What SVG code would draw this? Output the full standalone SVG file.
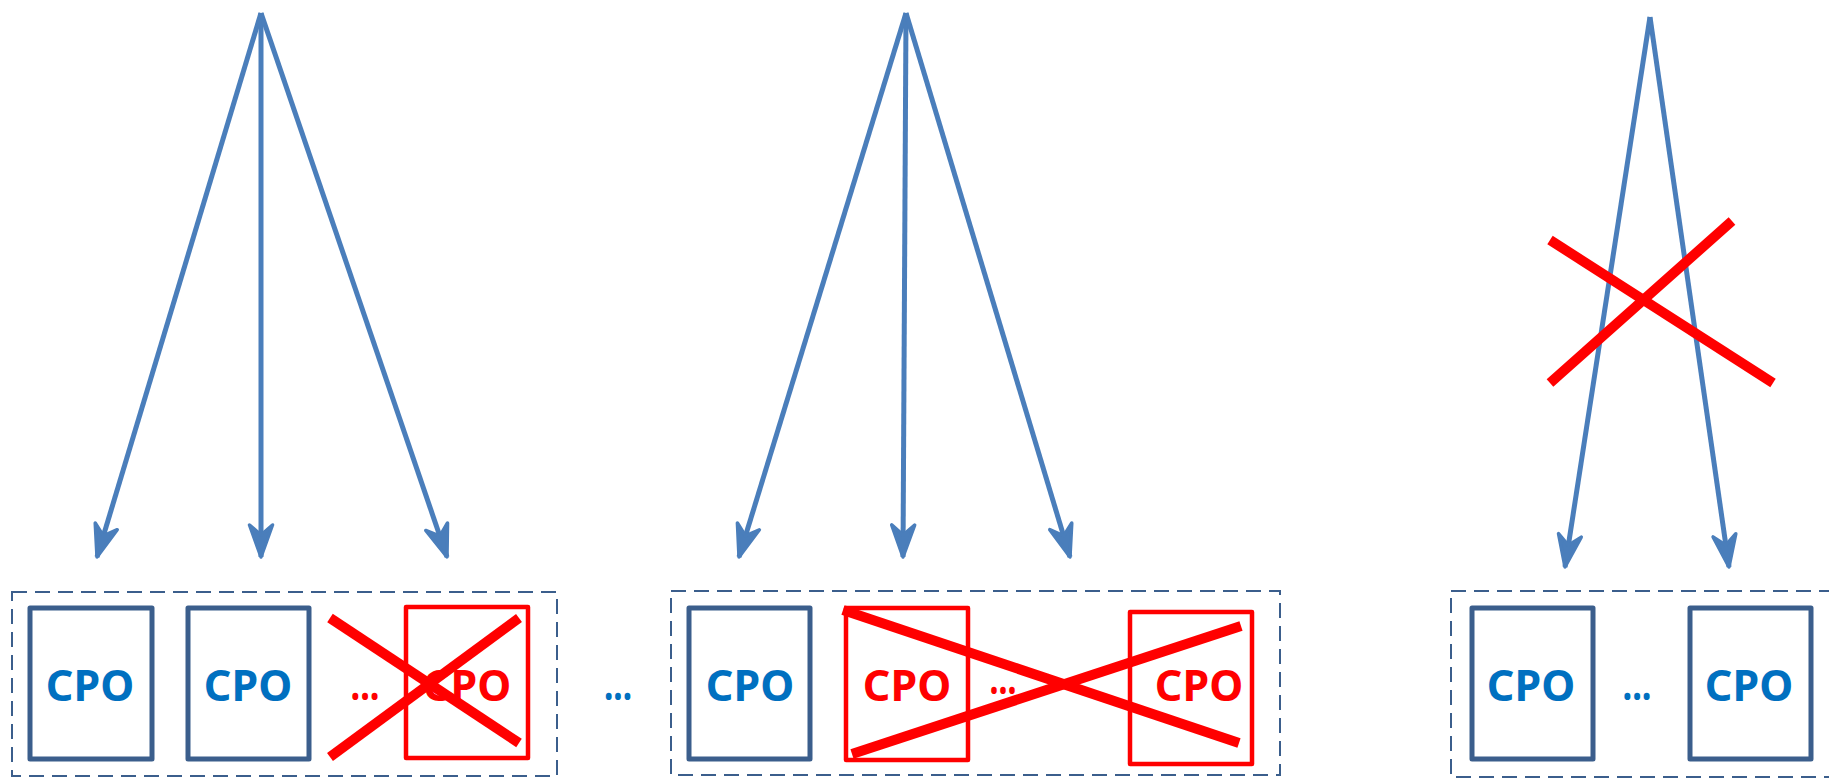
<svg xmlns="http://www.w3.org/2000/svg" width="1829" height="778" viewBox="0 0 1829 778">
<style>
.frame{fill:none;stroke:#3B5E8C;stroke-width:2;stroke-dasharray:15 8}
.cpo{fill:#fff;stroke:#3B5E8C;stroke-width:5;stroke-linejoin:round}
.cpor{fill:none;stroke:#FF0000;stroke-width:4.5;stroke-linejoin:round}
.t{font-family:"Noto Sans","Open Sans",sans-serif;font-weight:bold;font-size:43px;text-anchor:middle}
.blue{fill:#0070C0}
.red{fill:#FF0000}
.arr{stroke:#4A7EBB;stroke-width:5;fill:none;marker-end:url(#ah)}
.x{stroke:#FF0000;stroke-width:10;fill:none}
</style>
<defs>
<marker id="ah" markerUnits="userSpaceOnUse" markerWidth="44" markerHeight="34" refX="38" refY="17" orient="auto">
<path d="M38,17 L6,5.5 L16,17 L6,28.5 Z" fill="#4A7EBB" stroke="#4A7EBB" stroke-width="3.5" stroke-linejoin="round"/>
</marker>
</defs>
<rect width="1829" height="778" fill="#fff"/>

<g id="connectors">
<line class="arr" x1="261" y1="13" x2="97" y2="557"/>
<line class="arr" x1="261" y1="13" x2="261" y2="557"/>
<line class="arr" x1="261" y1="13" x2="447" y2="557"/>
<line class="arr" x1="906" y1="13" x2="739" y2="557"/>
<line class="arr" x1="906" y1="13" x2="903" y2="557"/>
<line class="arr" x1="906" y1="13" x2="1070" y2="557"/>
<line class="arr" x1="1650" y1="17" x2="1565" y2="567"/>
<line class="arr" x1="1650" y1="17" x2="1729" y2="567"/>
</g>

<g id="group1">
<rect class="frame" x="12" y="592" width="545" height="184"/>
<g id="g1-cpo1"><rect class="cpo" x="30" y="608" width="122" height="151"/><text class="t blue" x="90" y="701">CPO</text></g>
<g id="g1-cpo2"><rect class="cpo" x="188" y="608" width="121" height="151"/><text class="t blue" x="248" y="701">CPO</text></g>
<text class="t red" x="365" y="700" font-size="36" textLength="29" lengthAdjust="spacingAndGlyphs">...</text>
<g id="g1-cpo3"><rect class="cpor" x="406" y="607" width="122" height="151"/><text class="t red" x="467" y="701">CPO</text></g>
<line class="x" x1="330" y1="618" x2="519" y2="743"/>
<line class="x" x1="330" y1="757" x2="519" y2="618"/>
</g>

<text class="t blue" x="618" y="700" font-size="36" textLength="28" lengthAdjust="spacingAndGlyphs">...</text>

<g id="group2">
<rect class="frame" x="671" y="591" width="609" height="184"/>
<g id="g2-cpo1"><rect class="cpo" x="689" y="608" width="121" height="151"/><text class="t blue" x="750" y="701">CPO</text></g>
<g id="g2-cpo2"><rect class="cpor" x="846" y="608" width="122" height="152"/><text class="t red" x="907" y="701">CPO</text></g>
<text class="t red" x="1003" y="694" font-size="36" textLength="27" lengthAdjust="spacingAndGlyphs">...</text>
<g id="g2-cpo3"><rect class="cpor" x="1130" y="612" width="122" height="152"/><text class="t red" x="1199" y="701">CPO</text></g>
<line class="x" x1="843" y1="610" x2="1239" y2="743"/>
<line class="x" x1="852" y1="754" x2="1241" y2="626"/>
</g>

<g id="group3">
<rect class="frame" x="1451" y="591" width="400" height="186"/>
<g id="g3-cpo1"><rect class="cpo" x="1472" y="608" width="121" height="151"/><text class="t blue" x="1531" y="701">CPO</text></g>
<text class="t blue" x="1637" y="700" font-size="36" textLength="29" lengthAdjust="spacingAndGlyphs">...</text>
<g id="g3-cpo2"><rect class="cpo" x="1690" y="608" width="121" height="151"/><text class="t blue" x="1749" y="701">CPO</text></g>
</g>

<g id="cross3">
<line class="x" x1="1550" y1="240" x2="1773" y2="383"/>
<line class="x" x1="1550" y1="383" x2="1732" y2="221"/>
</g>
</svg>
